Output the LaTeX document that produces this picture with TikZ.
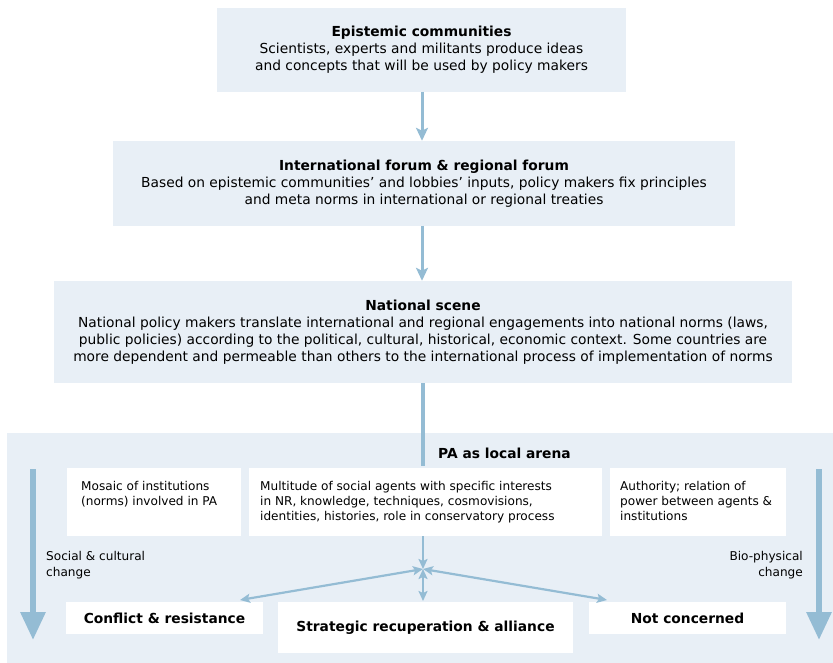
\documentclass[tikz,border=0pt]{standalone}
\usepackage{fontspec}
\setmainfont{DejaVu Sans}
\usetikzlibrary{arrows.meta}
\definecolor{boxfill}{HTML}{E8EFF6}
\definecolor{arrowcol}{HTML}{94BCD4}
\tikzset{
  bluebox/.style={fill=boxfill, draw=none, inner sep=0pt, align=center, font=\fontsize{13.8}{17}\selectfont},
  whitebox/.style={fill=white, draw=none, inner sep=0pt},
  innertext/.style={align=left, anchor=north west, inner sep=0pt, font=\fontsize{12.1}{15}\selectfont},
  boldlabel/.style={font=\fontsize{13.8}{16}\selectfont\bfseries, inner sep=0pt},
  flowarrow/.style={draw=arrowcol, line width=3pt, -{Stealth[length=13pt,width=12pt,inset=3pt]}},
  smallarrow/.style={draw=arrowcol, line width=2.2pt, {Stealth[length=10pt,width=9pt,inset=2pt]}-{Stealth[length=10pt,width=9pt,inset=2pt]}},
  downarrow/.style={draw=arrowcol, line width=2.2pt, -{Stealth[length=10pt,width=9pt,inset=2pt]}},
  bigarrow/.style={draw=arrowcol, line width=6pt, -{Triangle[length=28pt,width=24pt]}},
  sidelabel/.style={inner sep=0pt, font=\fontsize{12.1}{16}\selectfont}
}
\begin{document}
\begin{tikzpicture}[x=1pt,y=-1pt]
\useasboundingbox (0,0) rectangle (833,663);

% top boxes
\node[bluebox, minimum width=409pt, minimum height=84pt] (epi) at (421.5,50)
  {\textbf{Epistemic communities}\\Scientists, experts and militants produce ideas\\and concepts that will be used by policy makers};
\node[bluebox, minimum width=622pt, minimum height=85pt] (intl) at (424,183.5)
  {\textbf{International forum \& regional forum}\\Based on epistemic communities’ and lobbies’ inputs, policy makers fix principles\\and meta norms in international or regional treaties};
\node[bluebox, minimum width=738pt, minimum height=102pt] (nat) at (423,332)
  {\textbf{National scene}\\National policy makers translate international and regional engagements into national norms (laws,\\public policies) according to the political, cultural, historical, economic context. Some countries are\\more dependent and permeable than others to the international process of implementation of norms};

\coordinate (a1s) at (422,92);
\coordinate (a2s) at (422,226);
\draw[flowarrow] (a1s) -- (a1s |- intl.north);
\draw[flowarrow] (a2s) -- (a2s |- nat.north);

% PA area
\fill[boxfill] (7,433) rectangle (833,663);
\coordinate (paTop) at (423,466);
\draw[draw=arrowcol, line width=4pt] (paTop |- nat.south) -- (paTop);
\node[boldlabel, anchor=west] (patitle) at (438,453) {PA as local arena};

\node[whitebox, minimum width=174pt, minimum height=68pt] (mosaic) at (154,502) {};
\node[whitebox, minimum width=353pt, minimum height=68pt] (multi) at (425.5,502) {};
\node[whitebox, minimum width=176pt, minimum height=68pt] (auth) at (698,502) {};

\node[innertext] at (81,481) {Mosaic of institutions\\(norms) involved in PA};
\node[innertext] at (260,481) {Multitude of social agents with specific interests\\in NR, knowledge, techniques, cosmovisions,\\identities, histories, role in conservatory process};
\node[innertext] at (620,481) {Authority; relation of\\power between agents \&\\institutions};

\coordinate (lt) at (33,469);
\coordinate (lb) at (33,640);
\coordinate (rt) at (819,469);
\coordinate (rb) at (819,640);
\draw[bigarrow] (lt) -- (lb);
\draw[bigarrow] (rt) -- (rb);

\node[sidelabel, align=left, anchor=west] (social) at (46,565) {Social \& cultural\\change};
\node[sidelabel, align=right, anchor=east] (bio) at (803,565) {Bio-physical\\change};

\node[whitebox, minimum width=197pt, minimum height=32pt, boldlabel] (conflict) at (164.5,618) {Conflict \& resistance};
\node[whitebox, minimum width=295pt, minimum height=51pt, boldlabel] (strat) at (425.5,627.5) {Strategic recuperation \& alliance};
\node[whitebox, minimum width=197pt, minimum height=32pt, boldlabel] (notc) at (687.5,618) {Not concerned};

\coordinate (J) at (423,569);
\coordinate (Jtop) at (423,536);
\coordinate (cEnd) at (240,600);
\coordinate (nEnd) at (607,600);
\coordinate (sEnd) at (423,601);
\draw[downarrow] (Jtop) -- (J);
\draw[smallarrow] (J) -- (cEnd);
\draw[smallarrow] (J) -- (nEnd);
\draw[smallarrow] (J) -- (sEnd);
\end{tikzpicture}
\end{document}
